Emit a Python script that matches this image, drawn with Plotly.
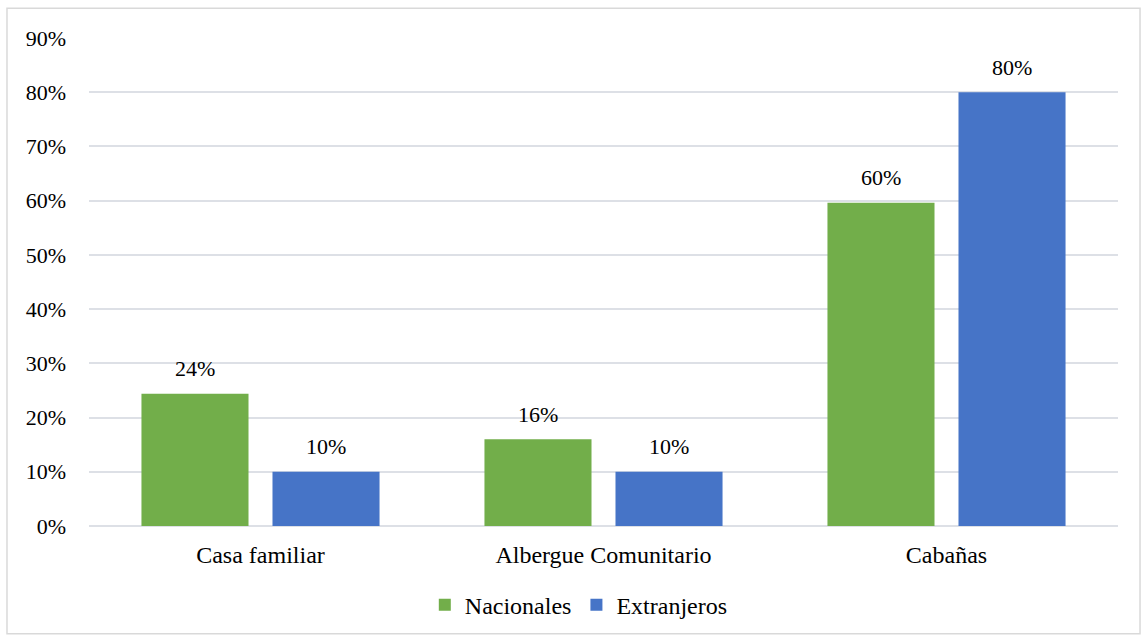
import plotly.graph_objects as go

categories = ["Casa familiar", "Albergue Comunitario", "Cabañas"]
nacionales = [0.244, 0.16, 0.596]
extranjeros = [0.10, 0.10, 0.80]
nacionales_labels = ["24%", "16%", "60%"]
extranjeros_labels = ["10%", "10%", "80%"]
y_ticks = [0, 0.1, 0.2, 0.3, 0.4, 0.5, 0.6, 0.7, 0.8, 0.9]

FONT = "Liberation Serif, Times New Roman, serif"

fig = go.Figure()
fig.add_trace(go.Bar(
    name="Nacionales", x=categories, y=nacionales,
    marker=dict(color="#72ae4a", line=dict(width=0)),
))
fig.add_trace(go.Bar(
    name="Extranjeros", x=categories, y=extranjeros,
    marker=dict(color="#4674c7", line=dict(width=0)),
))

annotations = []
for vals, labels, shift in ((nacionales, nacionales_labels, -65.5),
                            (extranjeros, extranjeros_labels, 65.5)):
    for c, v, t in zip(categories, vals, labels):
        annotations.append(dict(
            x=c, y=v, xref="x", yref="y", text=t, showarrow=False,
            xshift=shift, yshift=25, yanchor="middle", xanchor="center",
            font=dict(family=FONT, size=22, color="#000000"),
        ))

fig.update_layout(
    width=1143, height=637,
    margin=dict(l=89, r=25, t=38, b=111, autoexpand=False),
    paper_bgcolor="white", plot_bgcolor="white",
    barmode="group", bargap=0.236, bargroupgap=0.183,
    font=dict(family=FONT, size=22, color="#000000"),
    showlegend=True,
    legend=dict(orientation="h", x=0.476, xanchor="center", y=-0.162, yanchor="middle",
                font=dict(family=FONT, size=24), itemwidth=30, tracegroupgap=0),
    annotations=annotations,
)
fig.update_xaxes(showgrid=False, showline=False, ticks="", ticklabelstandoff=12,
                 tickfont=dict(family=FONT, size=24))
fig.update_yaxes(range=[0, 0.9], tickvals=y_ticks, tickformat=".0%",
                 showgrid=True, gridcolor="#dde0e6", gridwidth=1.5,
                 zeroline=True, zerolinecolor="#dde0e6", zerolinewidth=1.5,
                 showline=False, ticks="", ticklabelstandoff=22,
                 tickfont=dict(family=FONT, size=22))

fig.add_shape(type="rect", xref="paper", yref="paper",
              x0=-0.0797, x1=1.0214, y0=-0.221, y1=1.061,
              line=dict(color="#d9d9d9", width=1.5), fillcolor="rgba(0,0,0,0)", layer="below")

fig.write_html("out.html", config={"displayModeBar": False},
               post_script="document.body.style.margin='0px';document.body.style.overflow='hidden';")
